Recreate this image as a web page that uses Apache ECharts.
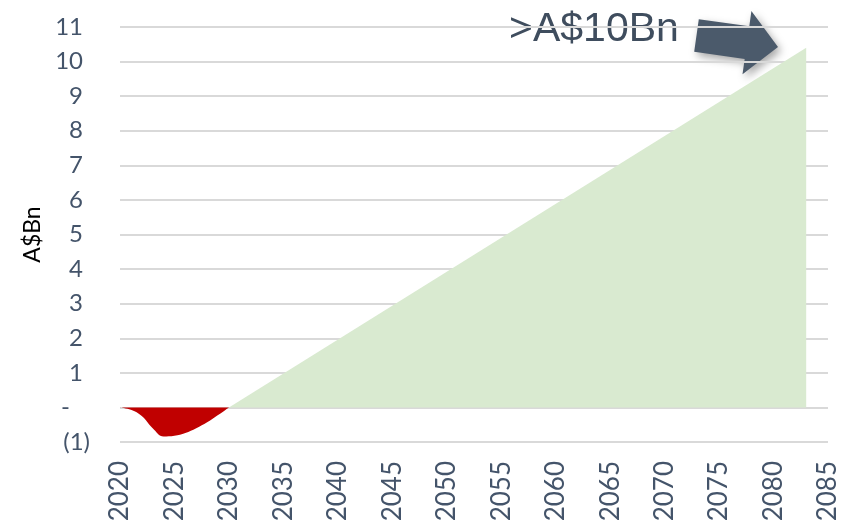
<!DOCTYPE html>
<html>
<head>
<meta charset="utf-8">
<script src="https://cdn.jsdelivr.net/npm/echarts@6/dist/echarts.min.js"></script>
<style>html,body{margin:0;padding:0;background:#fff;}#c{width:843px;height:520px;}</style>
</head>
<body>
<div id="c"></div>
<script>
// Data
const negYears = [2020, 2021, 2022, 2023, 2024, 2025, 2026, 2027, 2028, 2029, 2030];
const negValues = [0, -0.07, -0.25, -0.6, -0.84, -0.82, -0.74, -0.6, -0.43, -0.22, 0];
const posYears = [2030, 2083];
const posValues = [0, 10.4];
const yTickLabels = {'-1': '(1)', '0': '-'};
const annotationText = '>A$10Bn';
const yAxisTitle = 'A$Bn';

const chart = echarts.init(document.getElementById('c'), null, {renderer: 'canvas'});
const labelColor = '#44546a';
const fontFam = 'Lato, "Noto Sans", sans-serif';

function arrowPoints() {
  return [[698.8,19.2],[749.3,26.3],[751.4,10.9],[778,46.9],[742.5,74.3],[744.7,58.9],[694.2,51.8]];
}

chart.setOption({
  animation: false,
  backgroundColor: '#ffffff',
  grid: {left: 120, right: 15, top: 27, bottom: 78, containLabel: false, outerBoundsMode: 'none'},
  xAxis: {
    type: 'value', min: 2020, max: 2085, interval: 5,
    axisLine: {show: false}, axisTick: {show: false}, splitLine: {show: false},
    axisLabel: {rotate: 90, margin: 19, fontSize: 26, color: labelColor, fontFamily: fontFam,
      hideOverlap: false, formatter: v => String(v)}
  },
  yAxis: {
    type: 'value', min: -1, max: 11, interval: 1,
    name: yAxisTitle, nameLocation: 'middle', nameRotate: 90, nameGap: 76,
    nameTextStyle: {fontSize: 23, color: '#000000', fontFamily: fontFam},
    axisLine: {show: false}, axisTick: {show: false},
    splitLine: {lineStyle: {color: '#d9d9d9', width: 2}},
    axisLabel: {
      margin: 30, fontSize: 24, color: labelColor, fontFamily: fontFam,
      formatter: v => {
        const k = String(v);
        if (k === '-1') return yTickLabels[k];
        if (k === '0') return '{z|' + yTickLabels[k] + '}';
        return '{p|' + k + '}';
      },
      rich: {
        p: {padding: [0, 7, 0, 0], fontSize: 24, color: labelColor, fontFamily: fontFam},
        z: {padding: [0, 20, 0, 0], fontSize: 24, color: labelColor, fontFamily: fontFam}
      }
    }
  },
  series: [
    {
      type: 'line', data: negYears.map((y, i) => [y, negValues[i]]),
      smooth: 0.4, symbol: 'none', lineStyle: {width: 0},
      areaStyle: {color: '#c00000', opacity: 1}, z: 3
    },
    {
      type: 'line', data: posYears.map((y, i) => [y, posValues[i]]),
      symbol: 'none', lineStyle: {width: 0},
      areaStyle: {color: '#d9ead0', opacity: 1}, z: 2
    }
  ],
  graphic: [
    {
      type: 'text', left: 509, top: 9,
      style: {text: annotationText, font: '41px "Liberation Sans", Arial, sans-serif', fill: '#3f4d5e'}
    },
    {
      type: 'polygon', shape: {points: arrowPoints()},
      style: {fill: '#4b5a6b', shadowBlur: 8, shadowOffsetX: 3, shadowOffsetY: 4, shadowColor: 'rgba(0,0,0,0.35)'}
    }
  ]
});
</script>
</body>
</html>
